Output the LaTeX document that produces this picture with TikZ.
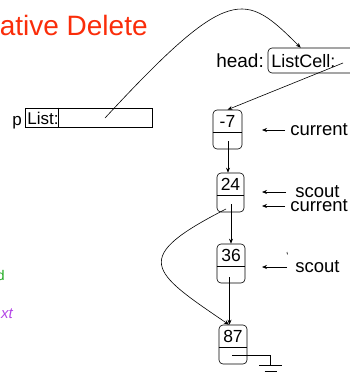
\documentclass[tikz,border=0pt]{standalone}
\usepackage{fontspec}
\setmainfont{Liberation Sans}
\usetikzlibrary{arrows.meta}
\definecolor{titlered}{RGB}{250,45,10}
\definecolor{dgreen}{RGB}{30,170,30}
\definecolor{dpurple}{RGB}{180,70,230}
\begin{document}
\begin{tikzpicture}[x=1pt,y=-1pt, line width=0.6pt,
  cell/.style={draw, rounded corners=4pt, inner sep=0pt, minimum width=28pt, minimum height=39pt},
  ptr/.style={-{Stealth[length=5pt,width=4pt]}},
  lbl/.style={inner sep=0pt, font=\fontsize{18.5}{20}\selectfont, anchor=base west},
  num/.style={inner sep=0pt, font=\fontsize{17.5}{19}\selectfont},
  boxtxt/.style={inner sep=0pt, font=\fontsize{17}{19}\selectfont, anchor=base west}]
\useasboundingbox (0,0) rectangle (350,375);

% title
\node[inner sep=0pt, anchor=base west, text=titlered, font=\fontsize{28}{30}\selectfont] (title) at (-0.5,35) {ative Delete};

% cut-off fragments at left
\node[inner sep=0pt, anchor=base east, text=dgreen, font=\fontsize{14}{16}\selectfont] (frag1) at (5,280) {d};
\node[inner sep=0pt, anchor=base east, text=dpurple, font=\fontsize{15}{17}\itshape\selectfont] (frag2) at (13,318) {xt};

% p List box
\node[boxtxt] (plbl) at (12,125) {p};
\node[draw, inner sep=0pt, minimum width=127pt, minimum height=19pt] (plist) at (88.5,117.5) {};
\draw ([xshift=34pt]plist.north west) -- ([xshift=34pt]plist.south west);
\node[boxtxt] (plisttxt) at (27,124.5) {List:};
\coordinate (pp) at (105,118);

% head box
\node[boxtxt, font=\fontsize{19}{21}\selectfont] (headlbl) at (216,67) {head:};
\node[draw, rounded corners=4pt, inner sep=0pt, minimum width=100pt, minimum height=25pt] (headbox) at (318,60.5) {};
\node[boxtxt, font=\fontsize{18}{20}\selectfont] (headtxt) at (271,67) {ListCell:};
\coordinate (hp) at (343,63);

% cells
\node[cell, minimum width=29pt] (c1) at (227.5,129.5) {};
\node[cell, minimum width=27pt] (c2) at (230.5,192.5) {};
\node[cell] (c3) at (231,263.5) {};
\node[cell] (c4) at (233,344.5) {};
\foreach \c in {c1,c2,c3,c4}{
  \draw ([yshift=-2.5pt]\c.west) -- ([yshift=-2.5pt]\c.east);
}
\node[num] (n1) at ([yshift=8.5pt]c1.center) {-7};
\node[num] (n2) at ([yshift=8.5pt]c2.center) {24};
\node[num] (n3) at ([yshift=8.5pt]c3.center) {36};
\node[num] (n4) at ([yshift=8.5pt]c4.center) {87};

\coordinate (p1) at (228,141);
\coordinate (p2) at (231,204);
\coordinate (p2b) at (226,209);
\coordinate (p3) at (229.5,277);
\coordinate (p4) at (232,355);

% pointers
\draw[ptr] (pp) .. controls (230,-17) and (245,-8) .. ([xshift=33pt]headbox.north west);
\draw[ptr] (hp) -- (c1.north);
\draw[ptr] (p1) -- (p1 |- c2.north);
\draw[ptr] (p2) -- (p2 |- c3.north);
\draw[ptr] (p3) -- (p3 |- c4.north);
\draw[ptr] (p2b) .. controls (130,258) and (150,271) .. ([xshift=-4pt]c4.north);

% ground
\coordinate (g1) at (270,355);
\coordinate (g2) at (270,365.5);
\draw (p4) -- (g1) -- (g2);
\draw ([xshift=-11pt]g2) -- ([xshift=12pt]g2);
\draw ([xshift=-5.5pt,yshift=-6pt]g2) -- ([xshift=6.5pt,yshift=-6pt]g2);

% right-side labels
\node[lbl] (cur1) at (290,135) {current};
\node[lbl] (sc2) at (295,197) {scout};
\node[lbl] (cur2) at (290,211) {current};
\node[lbl] (sc3) at (295,272) {scout};
\coordinate (a1) at (262,130);
\coordinate (a2) at (262,192);
\coordinate (a3) at (262,206);
\coordinate (a4) at (262,267);
\draw[ptr] ([xshift=-5pt]cur1.west |- a1) -- (a1);
\draw[ptr] ([xshift=-9pt]sc2.west |- a2) -- (a2);
\draw[ptr] ([xshift=-5pt]cur2.west |- a3) -- (a3);
\draw[ptr] ([xshift=-8pt]sc3.west |- a4) -- (a4);
\coordinate (tk) at (287,252);
\draw (tk) -- ++(0.4,2.5);
\end{tikzpicture}
\end{document}
